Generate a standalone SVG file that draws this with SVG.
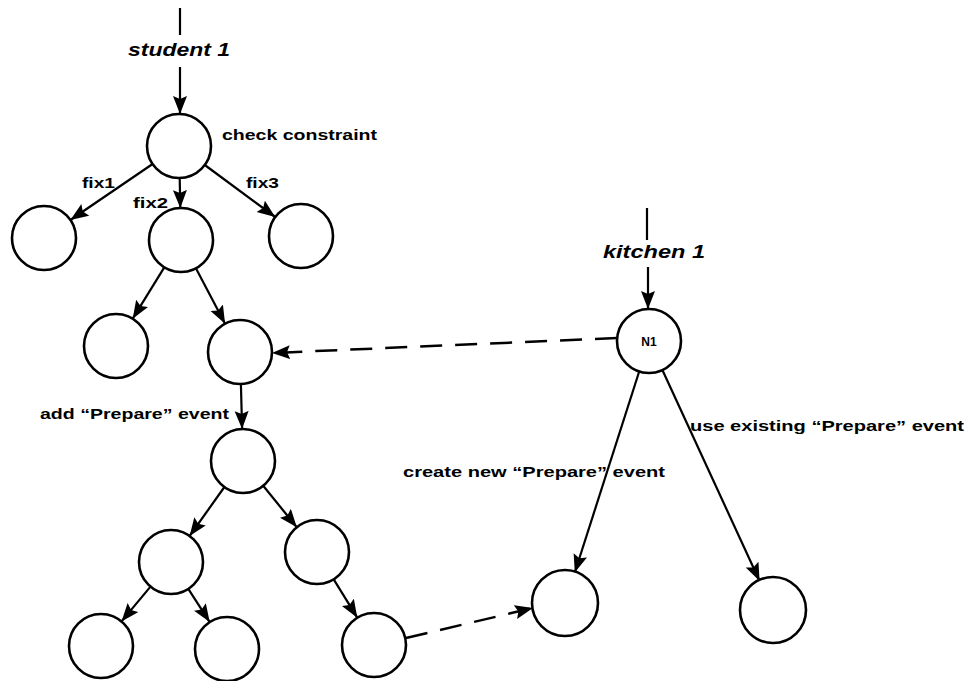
<svg xmlns="http://www.w3.org/2000/svg" width="968" height="681" viewBox="0 0 968 681">
<style>
.node{fill:#fff;stroke:#000;stroke-width:2.6}
.edge{stroke:#000;stroke-width:2.2;fill:none;marker-end:url(#arr)}
.dash{stroke-dasharray:22 13;stroke-width:2.5}
.plain{stroke:#000;stroke-width:2.2;fill:none}
text{font-family:"Liberation Sans",Arial,sans-serif;font-weight:bold;fill:#000}
.lbl{font-size:15px}
.title{font-size:18px;font-style:italic;text-anchor:middle}
</style>
<defs>
<marker id="arr" markerUnits="userSpaceOnUse" markerWidth="20" markerHeight="16" refX="18" refY="7" orient="auto">
<path d="M0,0 L18,7 L0,14 L3,7 Z" fill="#000"/>
</marker>
</defs>
<rect width="968" height="681" fill="#fff"/>
<g id="connectors">
<line class="plain" x1="180" y1="8" x2="180" y2="35"/>
<line class="edge" x1="180" y1="67" x2="180" y2="114"/>
<line class="edge" x1="152.6" y1="164" x2="70.4" y2="220"/>
<line class="edge" x1="179.7" y1="178" x2="180.3" y2="208"/>
<line class="edge" x1="204.8" y1="165" x2="275.2" y2="217"/>
<line class="edge" x1="164.3" y1="267.3" x2="132.7" y2="318.7"/>
<line class="edge" x1="195.9" y1="268.3" x2="225.1" y2="323.7"/>
<line class="edge" x1="240.9" y1="384" x2="242.1" y2="429"/>
<line class="edge" x1="224.4" y1="487" x2="189.6" y2="536"/>
<line class="edge" x1="263.2" y1="485.8" x2="296.8" y2="527.2"/>
<line class="edge" x1="150.5" y1="586.6" x2="121.5" y2="621.4"/>
<line class="edge" x1="188.3" y1="588.9" x2="209.7" y2="622.1"/>
<line class="edge" x1="333.7" y1="579.3" x2="357.3" y2="617.7"/>
<line class="plain" x1="647" y1="208" x2="647" y2="240"/>
<line class="edge" x1="648" y1="267" x2="648" y2="309"/>
<line class="edge dash" x1="617" y1="338" x2="272" y2="353"/>
<line class="edge" x1="639.2" y1="371.5" x2="574.8" y2="572.5"/>
<line class="edge" x1="662.4" y1="370" x2="759.6" y2="581"/>
<line class="edge dash" x1="406" y1="638" x2="533" y2="608"/>
</g>
<g id="student1-label"><text class="title" x="179" y="56" textLength="102" lengthAdjust="spacingAndGlyphs">student 1</text></g>
<g id="kitchen1-label"><text class="title" x="654" y="258" textLength="102" lengthAdjust="spacingAndGlyphs">kitchen 1</text></g>
<g id="root"><circle class="node" cx="179" cy="146" r="32"/><text class="lbl" x="222" y="140" textLength="155" lengthAdjust="spacingAndGlyphs">check constraint</text></g>
<g id="fix1"><circle class="node" cx="44" cy="238" r="32"/><text class="lbl" x="82" y="188" textLength="33" lengthAdjust="spacingAndGlyphs">fix1</text></g>
<g id="fix2"><circle class="node" cx="181" cy="240" r="32"/><text class="lbl" x="133" y="208" textLength="35" lengthAdjust="spacingAndGlyphs">fix2</text></g>
<g id="fix3"><circle class="node" cx="301" cy="236" r="32"/><text class="lbl" x="246" y="188" textLength="33" lengthAdjust="spacingAndGlyphs">fix3</text></g>
<g id="n-a"><circle class="node" cx="116" cy="346" r="32"/></g>
<g id="n-b"><circle class="node" cx="240" cy="352" r="32"/></g>
<g id="n-c"><circle class="node" cx="243" cy="461" r="32"/><text class="lbl" x="40" y="419" textLength="189" lengthAdjust="spacingAndGlyphs">add “Prepare” event</text></g>
<g id="n-d"><circle class="node" cx="171" cy="562" r="32"/></g>
<g id="n-e"><circle class="node" cx="317" cy="552" r="32"/></g>
<g id="n-f"><circle class="node" cx="101" cy="646" r="32"/></g>
<g id="n-g"><circle class="node" cx="227" cy="649" r="32"/></g>
<g id="n-h"><circle class="node" cx="374" cy="645" r="32"/></g>
<g id="N1"><circle class="node" cx="649" cy="341" r="32"/><text x="649" y="345.5" font-size="12" text-anchor="middle">N1</text></g>
<g id="n-new"><circle class="node" cx="565" cy="603" r="33"/><text class="lbl" x="403" y="477" textLength="262" lengthAdjust="spacingAndGlyphs">create new “Prepare” event</text></g>
<g id="n-exist"><circle class="node" cx="773" cy="610" r="33"/><text class="lbl" x="690" y="431" textLength="274" lengthAdjust="spacingAndGlyphs">use existing “Prepare” event</text></g>
</svg>
